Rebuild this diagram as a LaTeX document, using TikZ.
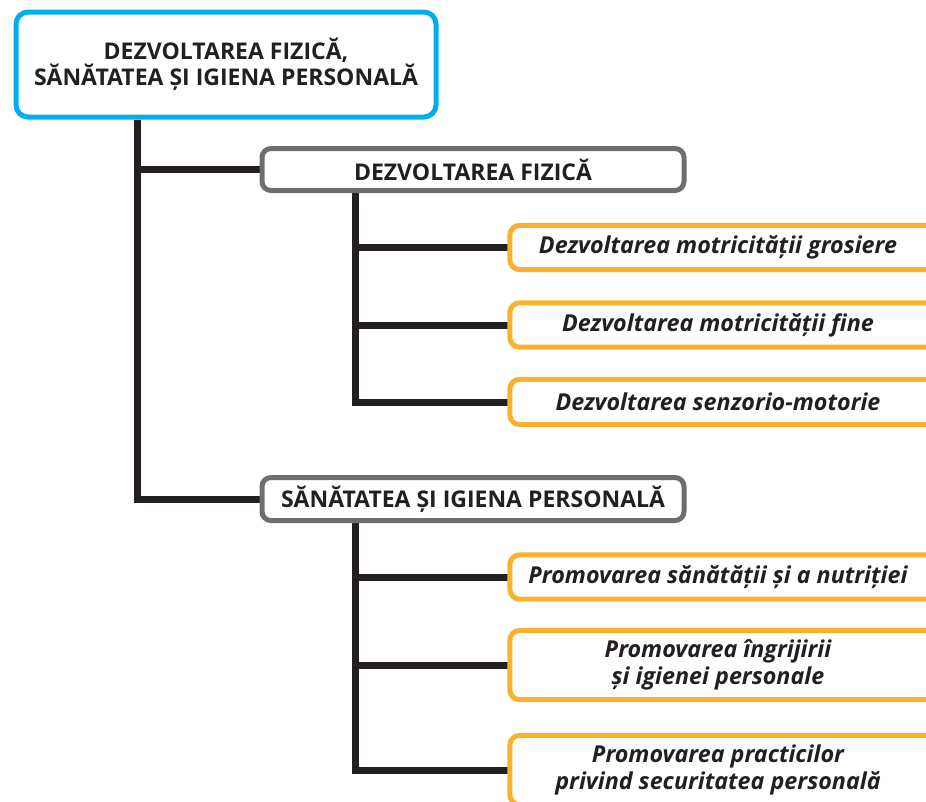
\documentclass[tikz,border=0pt]{standalone}
\usepackage{fontspec}
\setmainfont{Open Sans}
\usetikzlibrary{backgrounds}
\definecolor{ink}{HTML}{231F20}
\definecolor{bluebd}{HTML}{00AEEF}
\definecolor{graybd}{HTML}{6D6E71}
\definecolor{orangebd}{HTML}{FBB02E}
\begin{document}
\begin{tikzpicture}[x=1pt,y=-1pt,
  topbox/.style={draw=bluebd, line width=5pt, rounded corners=12pt, fill=white,
    minimum width=420pt, minimum height=105pt, align=center,
    font=\fontsize{23}{26}\selectfont\bfseries, text=ink},
  graybox/.style={draw=graybd, line width=5pt, rounded corners=9pt, fill=white,
    minimum width=422pt, minimum height=42pt, inner sep=0pt,
    font=\fontsize{23}{26}\selectfont\bfseries, text=ink},
  orangebox/.style={fill=white, minimum width=416pt, inner sep=0pt, align=center,
    font=\fontsize{23.3}{27.5}\selectfont\bfseries\itshape, text=ink},
  obord/.style={draw=orangebd, line width=5pt, rounded corners=10pt},
  link/.style={draw=ink, line width=7pt}
]
\useasboundingbox (0,0) rectangle (926,801);
\clip (0,0) rectangle (926,801);

\node[topbox] (top) at (226,64.5) {DEZVOLTAREA FIZICĂ,\\SĂNĂTATEA ȘI IGIENA PERSONALĂ};
\node[graybox] (g1) at (473,169.5) {DEZVOLTAREA FIZICĂ};
\node[graybox, minimum height=43pt] (g2) at (473,499) {SĂNĂTATEA ȘI IGIENA PERSONALĂ};

\node[orangebox, minimum height=44pt] (o1) at (718,247.5) {Dezvoltarea motricității grosiere};
\node[orangebox, minimum height=44pt] (o2) at (718,325) {Dezvoltarea motricității fine};
\node[orangebox, minimum height=45pt] (o3) at (718,402) {Dezvoltarea senzorio-motorie};
\node[orangebox, minimum height=44pt] (o4) at (718,577) {Promovarea sănătății și a nutriției};
\node[orangebox, minimum height=69pt] (o5) at (718,665) {Promovarea îngrijirii\\și igienei personale};
\node[orangebox, minimum height=69pt] (o6) at (718,770) {Promovarea practicilor\\privind securitatea personală};

\foreach \n in {o1,o2,o3,o4,o5,o6}
  \draw[obord] ([xshift=30pt]\n.north east) -- (\n.north west) -- (\n.south west) -- ([xshift=30pt]\n.south east);

\begin{scope}[on background layer]
  \draw[link] ([xshift=123.5pt]top.south west) |- (g2.west);
  \draw[link] ([xshift=123.5pt]top.south west) |- (g1.west);
  \draw[link] ([xshift=96pt]g1.south west) |- (o3.west);
  \draw[link] ([xshift=96pt]g1.south west) |- (o1.west);
  \draw[link] ([xshift=96pt]g1.south west) |- (o2.west);
  \draw[link] ([xshift=96pt]g2.south west) |- (o6.west);
  \draw[link] ([xshift=96pt]g2.south west) |- (o4.west);
  \draw[link] ([xshift=96pt]g2.south west) |- (o5.west);
\end{scope}
\end{tikzpicture}
\end{document}
